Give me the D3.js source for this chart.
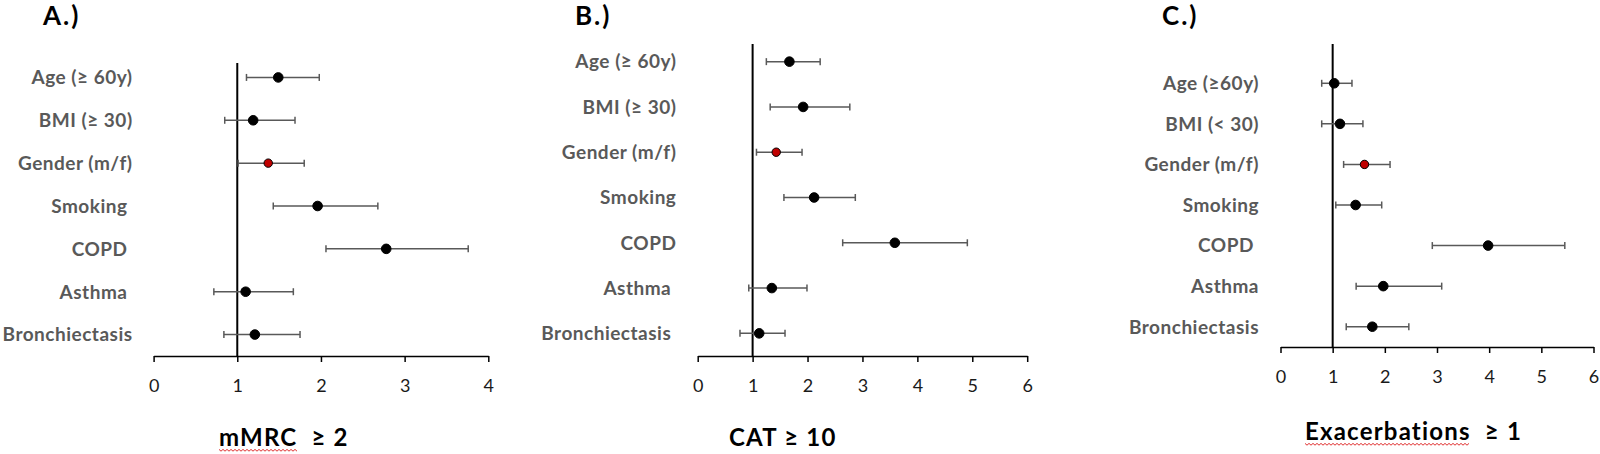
<!DOCTYPE html>
<html>
<head>
<meta charset="utf-8">
<script src="https://cdn.jsdelivr.net/npm/d3@7"></script>
<style>
  body { margin: 0; background: #fff; }
  svg { display: block; font-family: Lato, "Open Sans", sans-serif; }
  .lbl { font-weight: bold; fill: #595959; font-size: 19px; letter-spacing: 0.5px; }
  .tick text { font-size: 18px; fill: #1a1a1a; font-family: Lato, sans-serif; }
  .ttl { font-weight: bold; font-size: 26px; fill: #000; letter-spacing: 2px; }
  .xttl { font-weight: bold; font-size: 24px; fill: #000; white-space: pre; letter-spacing: 1.2px; }
</style>
</head>
<body>
<div id="chart"></div>
<script>
// categories
var labelsA = ["Age (≥ 60y)", "BMI (≥ 30)", "Gender (m/f)", "Smoking\u00a0", "COPD\u00a0", "Asthma\u00a0", "Bronchiectasis"];
var labelsB = ["Age (≥ 60y)", "BMI (≥ 30)", "Gender (m/f)", "Smoking", "COPD", "Asthma\u00a0", "Bronchiectasis\u00a0"];
var labelsC = ["Age (≥60y)", "BMI (< 30)", "Gender (m/f)", "Smoking", "COPD\u00a0", "Asthma", "Bronchiectasis"];

// odds ratios with 95% CI
var orA = [1.49, 1.19, 1.37, 1.96, 2.78, 1.10, 1.21];
var loA = [1.11, 0.85, 1.01, 1.43, 2.06, 0.72, 0.84];
var hiA = [1.98, 1.69, 1.80, 2.68, 3.76, 1.67, 1.75];

var orB = [1.67, 1.92, 1.43, 2.12, 3.59, 1.35, 1.12];
var loB = [1.25, 1.32, 1.07, 1.57, 2.64, 0.93, 0.77];
var hiB = [2.23, 2.77, 1.90, 2.87, 4.91, 1.99, 1.59];

var orC = [1.03, 1.14, 1.61, 1.44, 3.98, 1.97, 1.76];
var loC = [0.79, 0.79, 1.21, 1.06, 2.91, 1.45, 1.26];
var hiC = [1.37, 1.58, 2.10, 1.94, 5.45, 3.09, 2.46];

// tick labels
var ticksA = [0, 1, 2, 3, 4];
var ticksB = [0, 1, 2, 3, 4, 5, 6];
var ticksC = [0, 1, 2, 3, 4, 5, 6];

var panelTitles = ["A.)", "B.)", "C.)"];
var axisTitles = [["mMRC", "  ≥ 2"], ["CAT ≥ 10", ""], ["Exacerbations", "  ≥ 1"]];
var squiggle = [true, false, true];
var highlight = 2; // Gender drawn in red

var width = 1600, height = 454;

var svg = d3.select("#chart").append("svg")
  .attr("width", width)
  .attr("height", height);

var panels = [
  { labels: labelsA, or: orA, lo: loA, hi: hiA, ticks: ticksA,
    x0: 153.6, x1: 488.3, axisY: 356, bandTop: 56, lineTop: 63, labelX: 132.6,
    titleX: 43, xtX: 219, xtY: 446 },
  { labels: labelsB, or: orB, lo: loB, hi: hiB, ticks: ticksB,
    x0: 697.7, x1: 1027.2, axisY: 356, bandTop: 39, lineTop: 44, labelX: 676.4,
    titleX: 575, xtX: 729, xtY: 446 },
  { labels: labelsC, or: orC, lo: loC, hi: hiC, ticks: ticksC,
    x0: 1280.5, x1: 1593.5, axisY: 347, bandTop: 63, lineTop: 44, labelX: 1259,
    titleX: 1162, xtX: 1305, xtY: 440 }
];

panels.forEach(function(p, k) {
  var g = svg.append("g");

  var x = d3.scaleLinear()
    .domain([0, d3.max(p.ticks)])
    .range([p.x0, p.x1]);

  var y = d3.scaleBand()
    .domain(p.labels)
    .range([p.bandTop, p.axisY]);

  var rows = p.labels.map(function(l, i) {
    return { label: l, or: p.or[i], lo: p.lo[i], hi: p.hi[i], i: i };
  });

  // x axis
  var ax = g.append("g")
    .attr("transform", "translate(0," + p.axisY + ")")
    .call(d3.axisBottom(x).tickValues(p.ticks).tickFormat(d3.format("d")).tickSize(6).tickSizeOuter(0));
  ax.select(".domain").attr("stroke", "#000").attr("stroke-width", 1.5);
  ax.selectAll(".tick line").attr("stroke", "#000").attr("stroke-width", 1.5);
  ax.selectAll(".tick text").attr("y", 36).attr("dy", 0);

  // reference line at OR = 1
  g.append("line")
    .attr("x1", x(1)).attr("x2", x(1))
    .attr("y1", p.lineTop).attr("y2", p.axisY)
    .attr("stroke", "#000")
    .attr("stroke-width", 2);

  // category labels
  g.selectAll(".lbl")
    .data(rows)
    .enter().append("text")
    .attr("class", "lbl")
    .attr("x", p.labelX)
    .attr("y", function(d) { return y(d.label) + y.bandwidth() / 2; })
    .attr("dy", "0.36em")
    .attr("text-anchor", "end")
    .text(function(d) { return d.label; });

  // error bars
  var eb = g.selectAll(".eb")
    .data(rows)
    .enter().append("g")
    .attr("class", "eb")
    .attr("stroke", "#595959")
    .attr("stroke-width", 1.5);
  eb.append("line")
    .attr("x1", function(d) { return x(d.lo); })
    .attr("x2", function(d) { return x(d.hi); })
    .attr("y1", function(d) { return y(d.label) + y.bandwidth() / 2; })
    .attr("y2", function(d) { return y(d.label) + y.bandwidth() / 2; });
  ["lo", "hi"].forEach(function(key) {
    eb.append("line")
      .attr("x1", function(d) { return x(d[key]); })
      .attr("x2", function(d) { return x(d[key]); })
      .attr("y1", function(d) { return y(d.label) + y.bandwidth() / 2 - 3.5; })
      .attr("y2", function(d) { return y(d.label) + y.bandwidth() / 2 + 3.5; });
  });

  // points
  g.selectAll(".pt")
    .data(rows)
    .enter().append("circle")
    .attr("class", "pt")
    .attr("cx", function(d) { return x(d.or); })
    .attr("cy", function(d) { return y(d.label) + y.bandwidth() / 2; })
    .attr("r", function(d) { return d.i === highlight ? 4.2 : 4.8; })
    .attr("fill", function(d) { return d.i === highlight ? "#c00000" : "#000"; })
    .attr("stroke", "#000")
    .attr("stroke-width", 1);

  // panel letter
  g.append("text")
    .attr("class", "ttl")
    .attr("x", p.titleX)
    .attr("y", 25)
    .text(panelTitles[k]);

  // axis title
  var xt = g.append("text")
    .attr("class", "xttl")
    .attr("x", p.xtX)
    .attr("y", p.xtY);
  var first = xt.append("tspan").text(axisTitles[k][0]);
  xt.append("tspan").text(axisTitles[k][1]);

  // spell-check style underline
  if (squiggle[k]) {
    var w = first.node().getComputedTextLength();
    var pts = [];
    for (var s = 0; s <= w; s += 2) {
      pts.push([p.xtX + s, p.xtY + 4 + ((s / 2) % 2 ? 1.2 : -0.6)]);
    }
    g.append("path")
      .attr("d", d3.line()(pts))
      .attr("fill", "none")
      .attr("stroke", "#e03030")
      .attr("stroke-width", 1);
  }
});
</script>
</body>
</html>
